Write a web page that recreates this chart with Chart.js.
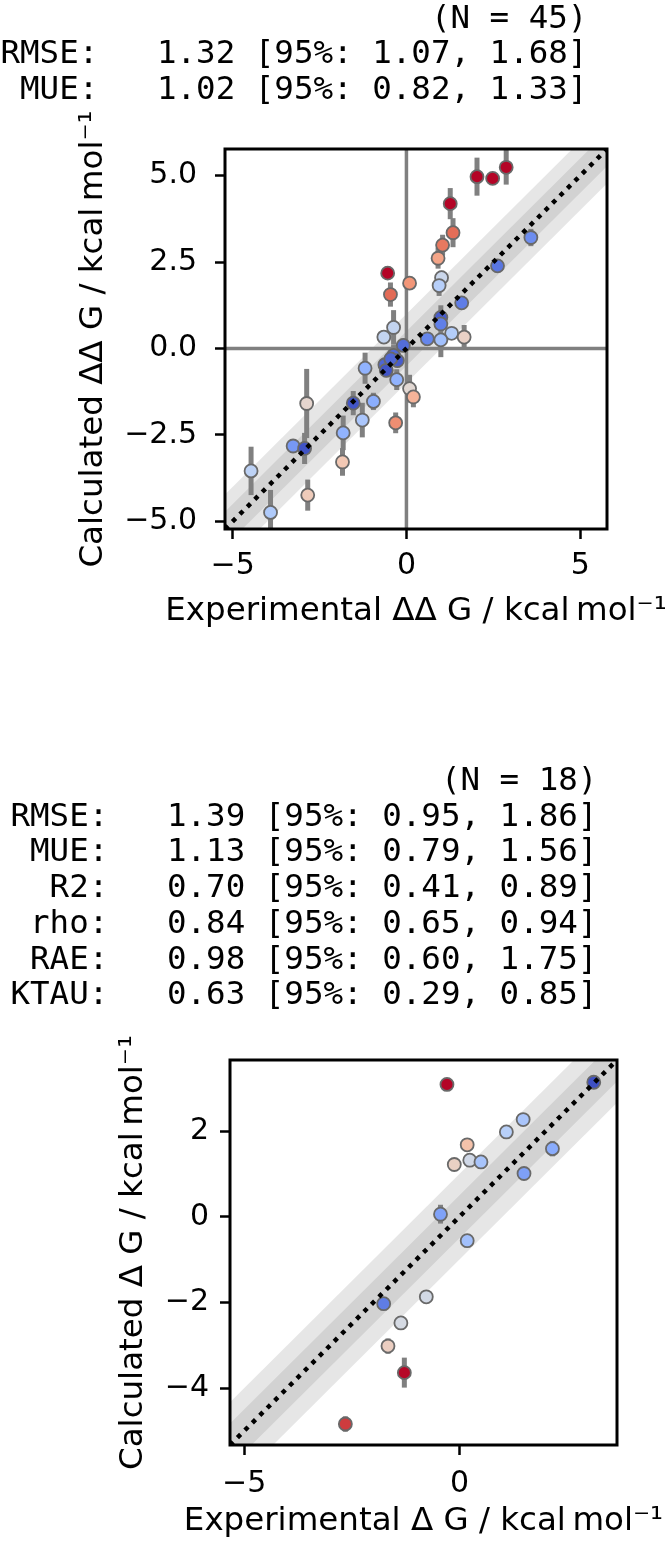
<!DOCTYPE html>
<html>
<head>
<meta charset="utf-8">
<script src="https://cdn.jsdelivr.net/npm/chart.js@4.4.1/dist/chart.umd.min.js"></script>
<style>
  body { margin: 0; background: #fff; }
  #wrap { position: relative; width: 667px; height: 1547px; overflow: hidden; background: #fff; }
  canvas { position: absolute; left: 0; }
  #ddg { top: 0; }
  #dg { top: 680px; }
</style>
</head>
<body>
<div id="wrap">
  <canvas id="ddg" width="667" height="680"></canvas>
  <canvas id="dg" width="667" height="867"></canvas>
</div>
<script>
// relative free energies (top panel)
const ddgExp = [2.03, 2.48, 2.87, 1.26, 1.34, 1.04, 0.91, 1.01, 0.94, 3.58, 2.62, 1.59, -0.54, -0.46, 0.09,
  -0.37, -0.65, 0.99, 0.99, 1.30, 1.66, 0.60, 0.99, -0.09, -0.37, -0.26, -0.62, -0.58, -1.19, -0.28,
  0.09, 0.20, -0.31, -1.53, -0.95, -1.27, -1.82, -1.84, -2.87, -3.26, -2.93, -2.84, -4.47, -3.91, -0.45]
const ddgCalc = [4.97, 4.92, 5.24, 4.19, 3.35, 2.99, 2.61, 2.05, 1.82, 3.21, 2.39, 1.32, 2.18, 1.56, 1.89,
  0.61, 0.33, 0.90, 0.71, 0.44, 0.33, 0.28, 0.25, 0.09, -0.20, -0.35, -0.47, -0.63, -0.57, -0.90,
  -1.16, -1.40, -2.15, -1.58, -1.53, -2.07, -2.44, -3.28, -1.59, -2.82, -2.89, -4.24, -3.54, -4.74, -0.30]
const ddgErr = [0.55, 0.15, 0.5, 0.45, 0.42, 0.3, 0.3, 0.2, 0.3, 0.25, 0.1, 0.15, 0.2, 0.35, 0.15,
  0.5, 0.2, 0.35, 0.2, 0.15, 0.35, 0.15, 0.5, 0.2, 0.3, 0.2, 0.2, 0.2, 0.45, 0.3,
  0.4, 0.3, 0.3, 0.35, 0.25, 0.5, 0.5, 0.4, 1.0, 0.15, 0.45, 0.45, 0.7, 0.65, 0.2]
const ddgLimits = [-5.22, 5.77]
const ddgTicksX = [-5, 0, 5]
const ddgTickLabelsX = ['\u22125', '0', '5']
const ddgTicksY = [-5, -2.5, 0, 2.5, 5]
const ddgTickLabelsY = ['\u22125.0', '\u22122.5', '0.0', '2.5', '5.0']
const ddgStats = [
  '(N = 45) ',
  'RMSE:   1.32 [95%: 1.07, 1.68] ',
  'MUE:   1.02 [95%: 0.82, 1.33] '
]

// absolute free energies (bottom panel)
const dgExp = [-0.29, 3.12, 1.48, 1.09, 0.18, -0.12, 0.24, 0.50, 2.16, 1.50, -0.44,
  0.18, -1.76, -0.77, -1.36, -1.66, -1.28, -2.65]
const dgCalc = [3.09, 3.14, 2.27, 1.98, 1.68, 1.22, 1.32, 1.28, 1.59, 1.01, 0.06,
  -0.56, -2.03, -1.87, -2.48, -3.02, -3.64, -4.84]
const dgErr = [0.1, 0.08, 0.08, 0.08, 0.08, 0.08, 0.08, 0.08, 0.18, 0.12, 0.22,
  0.08, 0.1, 0.05, 0.05, 0.18, 0.35, 0.18]
const dgLimits = [-5.33, 3.66]
const dgTicksX = [-5, 0]
const dgTickLabelsX = ['\u22125', '0']
const dgTicksY = [-4, -2, 0, 2]
const dgTickLabelsY = ['\u22124', '\u22122', '0', '2']
const dgStats = [
  '(N = 18) ',
  'RMSE:   1.39 [95%: 0.95, 1.86] ',
  'MUE:   1.13 [95%: 0.79, 1.56] ',
  'R2:   0.70 [95%: 0.41, 0.89] ',
  'rho:   0.84 [95%: 0.65, 0.94] ',
  'RAE:   0.98 [95%: 0.60, 1.75] ',
  'KTAU:   0.63 [95%: 0.29, 0.85] '
]

const bandWidths = [1, 0.5]
const FONT = 'DejaVu Sans'
const MONO = 'DejaVu Sans Mono'

// matplotlib coolwarm, sampled every 1/8
const coolwarmStops = [[59, 76, 192], [98, 130, 234], [141, 176, 254], [184, 208, 249], [221, 221, 221],
  [245, 196, 173], [244, 154, 123], [222, 96, 77], [180, 4, 38]]

function coolwarm(t) {
  t = Math.min(1, Math.max(0, t)) * 8
  const i = Math.min(7, Math.floor(t))
  const f = t - i
  const a = coolwarmStops[i], b = coolwarmStops[i + 1]
  const c = a.map((v, k) => Math.round(v + (b[k] - v) * f))
  return `rgb(${c[0]},${c[1]},${c[2]})`
}

// 2.372 kcal/mol = 4 RT, same scaling as the original plot
const colorFor = (x, y) => coolwarm(Math.abs(x - y) / 2.372)

function makeDecorations({ err, xLabel, yLabel, xLabelOffset, yLabelOffset, stats, statsTop }) {
  return {
    id: 'decorations',
    beforeDatasetDraw(chart, args) {
      if (args.index !== 0) return
      const { ctx, chartArea: a, scales: { x, y } } = chart
      const pts = chart.data.datasets[0].data
      ctx.save()
      ctx.beginPath()
      ctx.rect(a.left, a.top, a.width, a.height)
      ctx.clip()
      ctx.strokeStyle = '#808080'
      ctx.lineWidth = 5
      err.forEach((e, i) => {
        const px = x.getPixelForValue(pts[i].x)
        ctx.beginPath()
        ctx.moveTo(px, y.getPixelForValue(pts[i].y - e))
        ctx.lineTo(px, y.getPixelForValue(pts[i].y + e))
        ctx.stroke()
      })
      ctx.restore()
    },
    afterDraw(chart) {
      const { ctx, chartArea: a } = chart
      ctx.save()
      ctx.strokeStyle = '#000'
      ctx.lineWidth = 3
      ctx.strokeRect(a.left, a.top, a.width, a.height)

      ctx.fillStyle = '#000'
      ctx.font = `32.5px "${FONT}"`
      ctx.textAlign = 'center'
      ctx.textBaseline = 'alphabetic'
      ctx.fillText(xLabel, (a.left + a.right) / 2, a.bottom + xLabelOffset)
      ctx.save()
      ctx.translate(a.left - yLabelOffset, (a.top + a.bottom) / 2)
      ctx.rotate(-Math.PI / 2)
      ctx.fillText(yLabel, 0, 0)
      ctx.restore()

      ctx.font = `32.5px "${MONO}"`
      ctx.textAlign = 'right'
      stats.forEach((line, i) => ctx.fillText(line, a.right, statsTop + i * 35.7))
      ctx.restore()
    }
  }
}

function axis({ limits, ticks, labels, pad, size, horizontal }) {
  return {
    type: 'linear',
    position: horizontal ? 'bottom' : 'left',
    min: limits[0],
    max: limits[1],
    afterBuildTicks: s => { s.ticks = ticks.map(v => ({ value: v })) },
    afterFit: s => { if (horizontal) s.height = size; else s.width = size },
    ticks: {
      font: { family: FONT, size: 30 },
      color: '#000',
      padding: pad,
      maxRotation: 0,
      autoSkip: false,
      callback: (v, i) => labels[i]
    },
    grid: { drawOnChartArea: false, drawTicks: true, tickLength: 10, tickWidth: 2.5, tickColor: '#000' },
    border: { display: false }
  }
}

function guideSets(limits, withZeroLines) {
  const [lo, hi] = limits
  const sets = []
  bandWidths.forEach((w, k) => {
    sets.push({ data: [{ x: lo, y: lo + w }, { x: hi, y: hi + w }], showLine: true, borderWidth: 0,
      pointRadius: 0, fill: '+1', backgroundColor: 'rgba(128,128,128,0.2)', order: 10 + k })
    sets.push({ data: [{ x: lo, y: lo - w }, { x: hi, y: hi - w }], showLine: true, borderWidth: 0,
      pointRadius: 0, fill: false, order: 10 + k })
  })
  if (withZeroLines) {
    sets.push({ data: [{ x: 0, y: lo }, { x: 0, y: hi }], showLine: true, borderColor: '#808080',
      borderWidth: 3.5, pointRadius: 0, order: 5 })
    sets.push({ data: [{ x: lo, y: 0 }, { x: hi, y: 0 }], showLine: true, borderColor: '#808080',
      borderWidth: 3.5, pointRadius: 0, order: 5 })
  }
  sets.push({ data: [{ x: lo, y: lo }, { x: hi, y: hi }], showLine: true, borderColor: '#000',
    borderWidth: 4.5, borderDash: [4.5, 6], borderCapStyle: 'butt', pointRadius: 0, order: 0 })
  return sets
}

function createChart({ canvas, exp, calc, err, limits, ticksX, labelsX, ticksY, labelsY,
  padding, yWidth, xHeight, padX, padY, zeroLines, deco }) {
  const points = exp.map((x, i) => ({ x, y: calc[i] }))
  return new Chart(document.getElementById(canvas), {
    type: 'scatter',
    data: {
      datasets: [{
        data: points,
        pointRadius: 6.5,
        pointHoverRadius: 6.5,
        pointBackgroundColor: points.map(p => colorFor(p.x, p.y)),
        pointBorderColor: '#696969',
        pointBorderWidth: 1.8,
        order: 1
      }, ...guideSets(limits, zeroLines)]
    },
    options: {
      responsive: false,
      animation: false,
      layout: { padding },
      plugins: { legend: { display: false }, tooltip: { enabled: false }, title: { display: false } },
      scales: {
        x: axis({ limits, ticks: ticksX, labels: labelsX, pad: padX, size: xHeight, horizontal: true }),
        y: axis({ limits, ticks: ticksY, labels: labelsY, pad: padY, size: yWidth, horizontal: false })
      }
    },
    plugins: [makeDecorations({ err, ...deco })]
  })
}

createChart({
  canvas: 'ddg', exp: ddgExp, calc: ddgCalc, err: ddgErr, limits: ddgLimits,
  ticksX: ddgTicksX, labelsX: ddgTickLabelsX, ticksY: ddgTicksY, labelsY: ddgTickLabelsY,
  padding: { left: 0, top: 149, right: 60, bottom: 0 }, yWidth: 225, xHeight: 151, padX: 9, padY: 18,
  zeroLines: true,
  deco: {
    xLabel: 'Experimental \u0394\u0394 G / kcal\u2009mol\u207B\u00B9',
    yLabel: 'Calculated \u0394\u0394 G / kcal\u2009mol\u207B\u00B9',
    xLabelOffset: 91, yLabelOffset: 123, stats: ddgStats, statsTop: 27.5
  }
})

createChart({
  canvas: 'dg', exp: dgExp, calc: dgCalc, err: dgErr, limits: dgLimits,
  ticksX: dgTicksX, labelsX: dgTickLabelsX, ticksY: dgTicksY, labelsY: dgTickLabelsY,
  padding: { left: 0, top: 380, right: 50, bottom: 0 }, yWidth: 230, xHeight: 102, padX: 11, padY: 11,
  zeroLines: false,
  deco: {
    xLabel: 'Experimental \u0394 G / kcal\u2009mol\u207B\u00B9',
    yLabel: 'Calculated \u0394 G / kcal\u2009mol\u207B\u00B9',
    xLabelOffset: 85, yLabelOffset: 88, stats: dgStats, statsTop: 110
  }
})
</script>
</body>
</html>
